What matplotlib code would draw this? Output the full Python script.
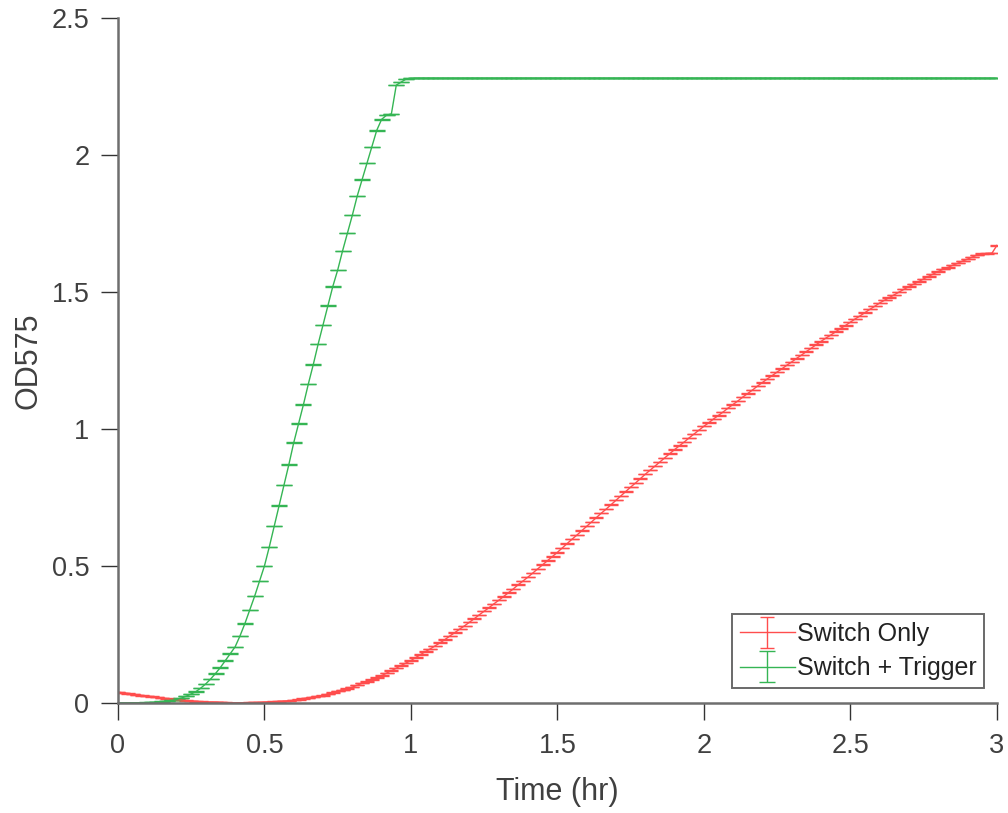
import matplotlib
matplotlib.use("Agg")
import matplotlib.pyplot as plt
from matplotlib.container import ErrorbarContainer
from matplotlib.legend_handler import HandlerErrorbar
import numpy as np

plt.rcParams['font.family'] = ['Liberation Sans', 'DejaVu Sans']

# Plate reader readings, one per minute over 3 hours
minutes = list(range(0, 181))

switch_only = [
    0.040, 0.037, 0.035, 0.032, 0.030, 0.027,
    0.025, 0.023, 0.021, 0.018, 0.016, 0.014,
    0.012, 0.011, 0.009, 0.008, 0.006, 0.005,
    0.004, 0.003, 0.003, 0.002, 0.002, 0.001,
    0.001, 0.001, 0.001, 0.002, 0.002, 0.002,
    0.003, 0.004, 0.005, 0.006, 0.007, 0.008,
    0.010, 0.013, 0.016, 0.019, 0.022, 0.025,
    0.028, 0.033, 0.038, 0.043, 0.048, 0.053,
    0.058, 0.065, 0.072, 0.079, 0.086, 0.093,
    0.100, 0.109, 0.118, 0.127, 0.137, 0.146,
    0.155, 0.166, 0.177, 0.188, 0.198, 0.209,
    0.220, 0.232, 0.245, 0.257, 0.270, 0.282,
    0.295, 0.308, 0.322, 0.335, 0.348, 0.362,
    0.375, 0.389, 0.403, 0.417, 0.432, 0.446,
    0.460, 0.475, 0.490, 0.505, 0.520, 0.535,
    0.550, 0.566, 0.582, 0.598, 0.613, 0.629,
    0.645, 0.661, 0.677, 0.693, 0.708, 0.724,
    0.740, 0.756, 0.772, 0.788, 0.803, 0.819,
    0.835, 0.850, 0.865, 0.880, 0.895, 0.910,
    0.925, 0.939, 0.953, 0.968, 0.982, 0.996,
    1.010, 1.023, 1.037, 1.050, 1.063, 1.077,
    1.090, 1.103, 1.117, 1.130, 1.143, 1.157,
    1.170, 1.183, 1.195, 1.208, 1.220, 1.233,
    1.245, 1.258, 1.270, 1.283, 1.295, 1.308,
    1.320, 1.332, 1.343, 1.355, 1.367, 1.378,
    1.390, 1.402, 1.413, 1.425, 1.437, 1.448,
    1.460, 1.470, 1.480, 1.490, 1.500, 1.510,
    1.520, 1.529, 1.538, 1.548, 1.557, 1.566,
    1.575, 1.583, 1.590, 1.598, 1.605, 1.613,
    1.620, 1.628, 1.635, 1.640, 1.640, 1.642,
    1.670,
]

switch_trigger = [
    0.000, 0.000, 0.000, 0.001, 0.001, 0.001,
    0.002, 0.002, 0.003, 0.005, 0.007, 0.010,
    0.013, 0.018, 0.025, 0.033, 0.042, 0.055,
    0.070, 0.088, 0.108, 0.130, 0.155, 0.180,
    0.205, 0.245, 0.290, 0.340, 0.390, 0.445,
    0.500, 0.570, 0.645, 0.720, 0.795, 0.870,
    0.950, 1.020, 1.090, 1.165, 1.235, 1.310,
    1.380, 1.450, 1.520, 1.580, 1.650, 1.715,
    1.780, 1.850, 1.910, 1.970, 2.030, 2.090,
    2.130, 2.145, 2.150, 2.255, 2.266, 2.277,
    2.28, 2.28, 2.28, 2.28, 2.28, 2.28, 2.28, 2.28, 2.28, 2.28,
    2.28, 2.28, 2.28, 2.28, 2.28, 2.28, 2.28, 2.28, 2.28, 2.28,
    2.28, 2.28, 2.28, 2.28, 2.28, 2.28, 2.28, 2.28, 2.28, 2.28,
    2.28, 2.28, 2.28, 2.28, 2.28, 2.28, 2.28, 2.28, 2.28, 2.28,
    2.28, 2.28, 2.28, 2.28, 2.28, 2.28, 2.28, 2.28, 2.28, 2.28,
    2.28, 2.28, 2.28, 2.28, 2.28, 2.28, 2.28, 2.28, 2.28, 2.28,
    2.28, 2.28, 2.28, 2.28, 2.28, 2.28, 2.28, 2.28, 2.28, 2.28,
    2.28, 2.28, 2.28, 2.28, 2.28, 2.28, 2.28, 2.28, 2.28, 2.28,
    2.28, 2.28, 2.28, 2.28, 2.28, 2.28, 2.28, 2.28, 2.28, 2.28,
    2.28, 2.28, 2.28, 2.28, 2.28, 2.28, 2.28, 2.28, 2.28, 2.28,
    2.28, 2.28, 2.28, 2.28, 2.28, 2.28, 2.28, 2.28, 2.28, 2.28,
    2.28, 2.28, 2.28, 2.28, 2.28, 2.28, 2.28, 2.28, 2.28, 2.28,
    2.28,
]

# Replicate spread (standard deviation) is tiny at every reading
switch_only_err = [0.0008] * len(switch_only)
switch_trigger_err = [0.0008] * len(switch_trigger)

x_ticks = [0, 0.5, 1, 1.5, 2, 2.5, 3]
y_ticks = [0, 0.5, 1, 1.5, 2, 2.5]

red = '#ff4d4d'
green = '#35b554'
spine_grey = '#6e6e6e'
tick_grey = '#333333'
text_grey = '#404040'

hours = np.array(minutes) / 60.0

fig = plt.figure(figsize=(10.08, 8.13), dpi=100)
ax = fig.add_axes([0.117, 0.1353, 0.872, 0.8426])

ax.errorbar(hours, switch_only, yerr=switch_only_err, color=red,
            lw=1.0, elinewidth=1.0, capsize=5.2, capthick=1.0,
            label='Switch Only')
ax.errorbar(hours, switch_trigger, yerr=switch_trigger_err, color=green,
            lw=1.0, elinewidth=1.0, capsize=5.8, capthick=1.0,
            label='Switch + Trigger')

ax.set_xlim(0, 3)
ax.set_ylim(0, 2.5)
ax.set_xticks(x_ticks)
ax.set_xticklabels(['0', '0.5', '1', '1.5', '2', '2.5', '3'])
ax.set_yticks(y_ticks)
ax.set_yticklabels(['0', '0.5', '1', '1.5', '2', '2.5'])

for side in ('top', 'right'):
    ax.spines[side].set_visible(False)
for side in ('left', 'bottom'):
    ax.spines[side].set_color(spine_grey)
    ax.spines[side].set_linewidth(1.8)

ax.tick_params(direction='out', length=12.5, width=1.0, color=tick_grey,
               labelsize=19.5, labelcolor=text_grey)
ax.tick_params(axis='x', pad=9)
ax.tick_params(axis='y', pad=8)

ax.set_xlabel('Time (hr)', fontsize=22, color=text_grey, labelpad=13)
ax.set_ylabel('OD575', fontsize=22, color=text_grey, labelpad=6)

leg = ax.legend(loc='lower right', fontsize=18, frameon=True, fancybox=False,
                borderpad=0.3, handlelength=2.2, handletextpad=0.08,
                labelspacing=0.42, borderaxespad=0.0,
                bbox_to_anchor=(0.9852, 0.0219),
                handler_map={ErrorbarContainer: HandlerErrorbar(xerr_size=0.45,
                                                                yerr_size=0.62)})
leg.get_frame().set_edgecolor('#444444')
leg.get_frame().set_linewidth(1.4)
for t in leg.get_texts():
    t.set_color('#222222')

fig.savefig('out.png', dpi=100, facecolor='white')
